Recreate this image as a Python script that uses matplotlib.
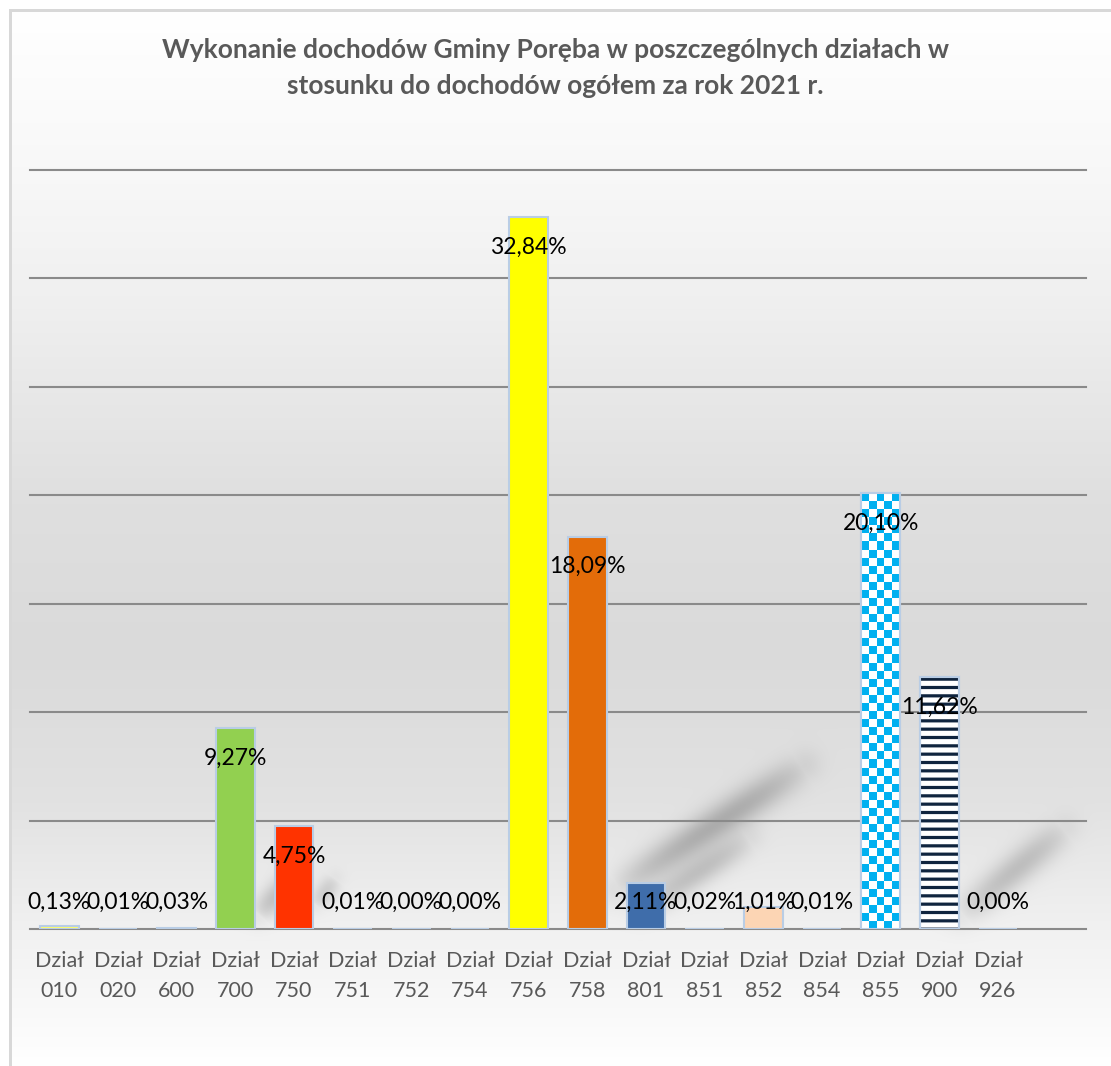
import numpy as np
import matplotlib
matplotlib.use("Agg")
import matplotlib.pyplot as plt

categories = ["010", "020", "600", "700", "750", "751", "752", "754", "756",
              "758", "801", "851", "852", "854", "855", "900", "926"]
values = [0.13, 0.01, 0.03, 9.27, 4.75, 0.01, 0.00, 0.00, 32.84,
          18.09, 2.11, 0.02, 1.01, 0.01, 20.10, 11.62, 0.00]
colors = ["#FFFF66", "#DCE6F2", "#DCE6F2", "#92D050", "#FF3300", "#DCE6F2",
          "#DCE6F2", "#DCE6F2", "#FFFF00", "#E36C09", "#3F6DAA", "#DCE6F2",
          "#FCD5B4", "#DCE6F2", "#FFFFFF", "#FFFFFF", "#DCE6F2"]
title = ("Wykonanie dochodów Gminy Poręba w poszczególnych działach w\n"
         "stosunku do dochodów ogółem za rok 2021 r.")

plt.rcParams["font.family"] = ["Lato", "DejaVu Sans"]

W, H = 1111, 1066
fig = plt.figure(figsize=(W / 100, H / 100), dpi=100)

# background: vertical gradient, soft shadows, frame
yy = np.arange(H)[:, None]
stops_y = [10, 170, 300, 500, 650, 800, 929, 1066]
stops_v = [1.0, 0.972, 0.94, 0.875, 0.855, 0.885, 0.945, 1.0]
grad = np.interp(yy, stops_y, stops_v) * np.ones((1, W))
X = np.arange(W)[None, :] * np.ones((H, 1))
Y = yy * np.ones((1, W))


def streak(x0, y0, x1, y1, width, depth):
    dx, dy = x1 - x0, y1 - y0
    t = np.clip(((X - x0) * dx + (Y - y0) * dy) / (dx * dx + dy * dy), 0, 1)
    d = np.hypot(X - (x0 + t * dx), Y - (y0 + t * dy))
    fade = np.sin(np.pi * np.clip(t, 0.02, 0.98)) ** 0.5
    return depth * fade * np.exp(-(d / width) ** 2)


shade = (streak(615, 890, 805, 765, 17, 0.22)
         + streak(640, 910, 750, 838, 14, 0.16)
         + streak(960, 915, 1065, 828, 16, 0.17)
         + streak(258, 915, 292, 878, 13, 0.17)
         + streak(315, 905, 335, 878, 10, 0.12))
grad = np.clip(grad - shade, 0, 1)
grad[:10, :] = 1.0
grad[:, :10] = 1.0
img = np.dstack([grad, grad, grad])
img[9:12, 9:, :] = 0.85
img[9:, 9:12, :] = 0.85
bg = fig.add_axes([0, 0, 1, 1], zorder=0)
bg.imshow(img, aspect="auto", interpolation="bilinear")
bg.axis("off")

ax = fig.add_axes([30 / W, 1 - 929 / H, 1056 / W, 759 / H], zorder=1)
ax.patch.set_alpha(0)
x = np.arange(len(categories))
ax.set_xlim(-0.5, 17.5)
ax.set_ylim(0, 35)
ax.set_yticks(np.arange(0, 36, 5))
ax.yaxis.grid(True, color="#8A8A8A", linewidth=1.5)
for gl in ax.get_ygridlines():
    gl.set_clip_on(False)
ax.set_axisbelow(True)
for s in ax.spines.values():
    s.set_visible(False)
ax.tick_params(length=0, labelleft=False)
ax.set_xticks(x)
ax.set_xticklabels(["Dział\n" + c for c in categories], color="#595959",
                   fontsize=15.5, linespacing=1.6)
ax.tick_params(axis="x", pad=16)

bw = 0.66
bars = ax.bar(x, values, width=bw, color=colors, edgecolor="#B9CDE5",
              linewidth=1.5, zorder=3)

# checkerboard fill for 855
i855 = categories.index("855")
b = bars[i855]
nr, nc = 54, 5
chk = (np.add.outer(np.arange(nr), np.arange(nc)) % 2 == 0)
rgb = np.where(chk[..., None], np.array([0, 176, 240]) / 255, 1.0)
im = ax.imshow(rgb, extent=(b.get_x(), b.get_x() + b.get_width(), 0, values[i855]),
               aspect="auto", interpolation="nearest", zorder=3.5, origin="upper")
im.set_clip_path(b)

# horizontal stripes for 900
plt.rcParams["hatch.linewidth"] = 2.3
i900 = categories.index("900")
ax.bar(x[i900], values[i900], width=bw, color="none", edgecolor="#0F243E",
       linewidth=0, hatch="--", zorder=3.6)
ax.bar([x[i855], x[i900]], [values[i855], values[i900]], width=bw, color="none",
       edgecolor="#B9CDE5", linewidth=1.5, zorder=3.7)

for xi, v in zip(x, values):
    ax.text(xi, max(v - 1.385, 1.25), f"{v:.2f}%".replace(".", ","),
            ha="center", va="center", fontsize=16.5, color="black", zorder=5)

fig.text(0.5, 1 - 68 / H, title, ha="center", va="center", fontsize=19,
         fontweight="bold", color="#595959", linespacing=1.6)

fig.savefig("out.png", dpi=100)
